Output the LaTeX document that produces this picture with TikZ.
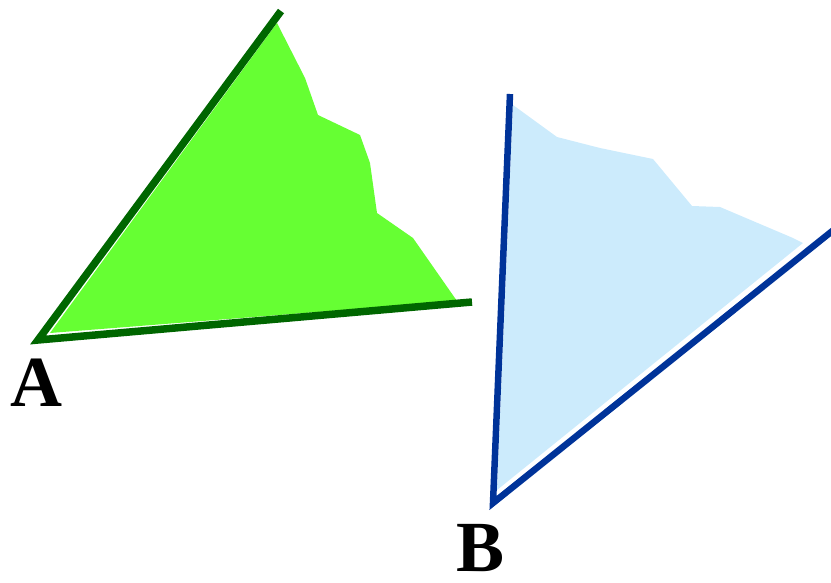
\documentclass[tikz,border=0pt]{standalone}
\usepackage{fontspec}
\setmainfont{Liberation Serif}[BoldFont={Liberation Serif Bold}]
\usepackage{tikz}
\usetikzlibrary{positioning}
\definecolor{leafgreen}{HTML}{66FF33}
\definecolor{darkgreen}{HTML}{006600}
\definecolor{paleblue}{HTML}{CCEBFC}
\definecolor{deepblue}{HTML}{003399}
\tikzset{
  edge/.style={line width=7.5pt},
  corner/.style={inner sep=0pt,font=\fontsize{72}{72}\selectfont\bfseries},
}
\begin{document}
\begin{tikzpicture}[x=1pt,y=-1pt]
\useasboundingbox (0,0) rectangle (831,582);
%
\begin{scope} % wedge A
\fill[leafgreen] (50,333)--(277,23)--(305,78)--(318,115)--(360,135)--(370,163)
  --(377,213)--(413,238)--(457,301)--cycle;
\coordinate (a) at (38,340);
\coordinate (a1) at (281,11);
\coordinate (a2) at (472,302);
\draw[edge,darkgreen] (a1)--(a)--(a2);
\node[corner,anchor=base] (la) at (36,406) {A};
\end{scope}
%
\begin{scope} % wedge B
\fill[paleblue] (513,105)--(557,137)--(600,148)--(653,159)--(692,206)--(720,207)
  --(793,238)--(803,243)--(497,490)--cycle;
\coordinate (b) at (493,503);
\coordinate (b1) at (510,94);
\coordinate (b2) at (836,228);
\draw[edge,deepblue,line width=6.5pt] (b1)--(b)--(b2);
\node[corner,anchor=base] (lb) at (481,571) {B};
\end{scope}
%
\end{tikzpicture}
\end{document}
